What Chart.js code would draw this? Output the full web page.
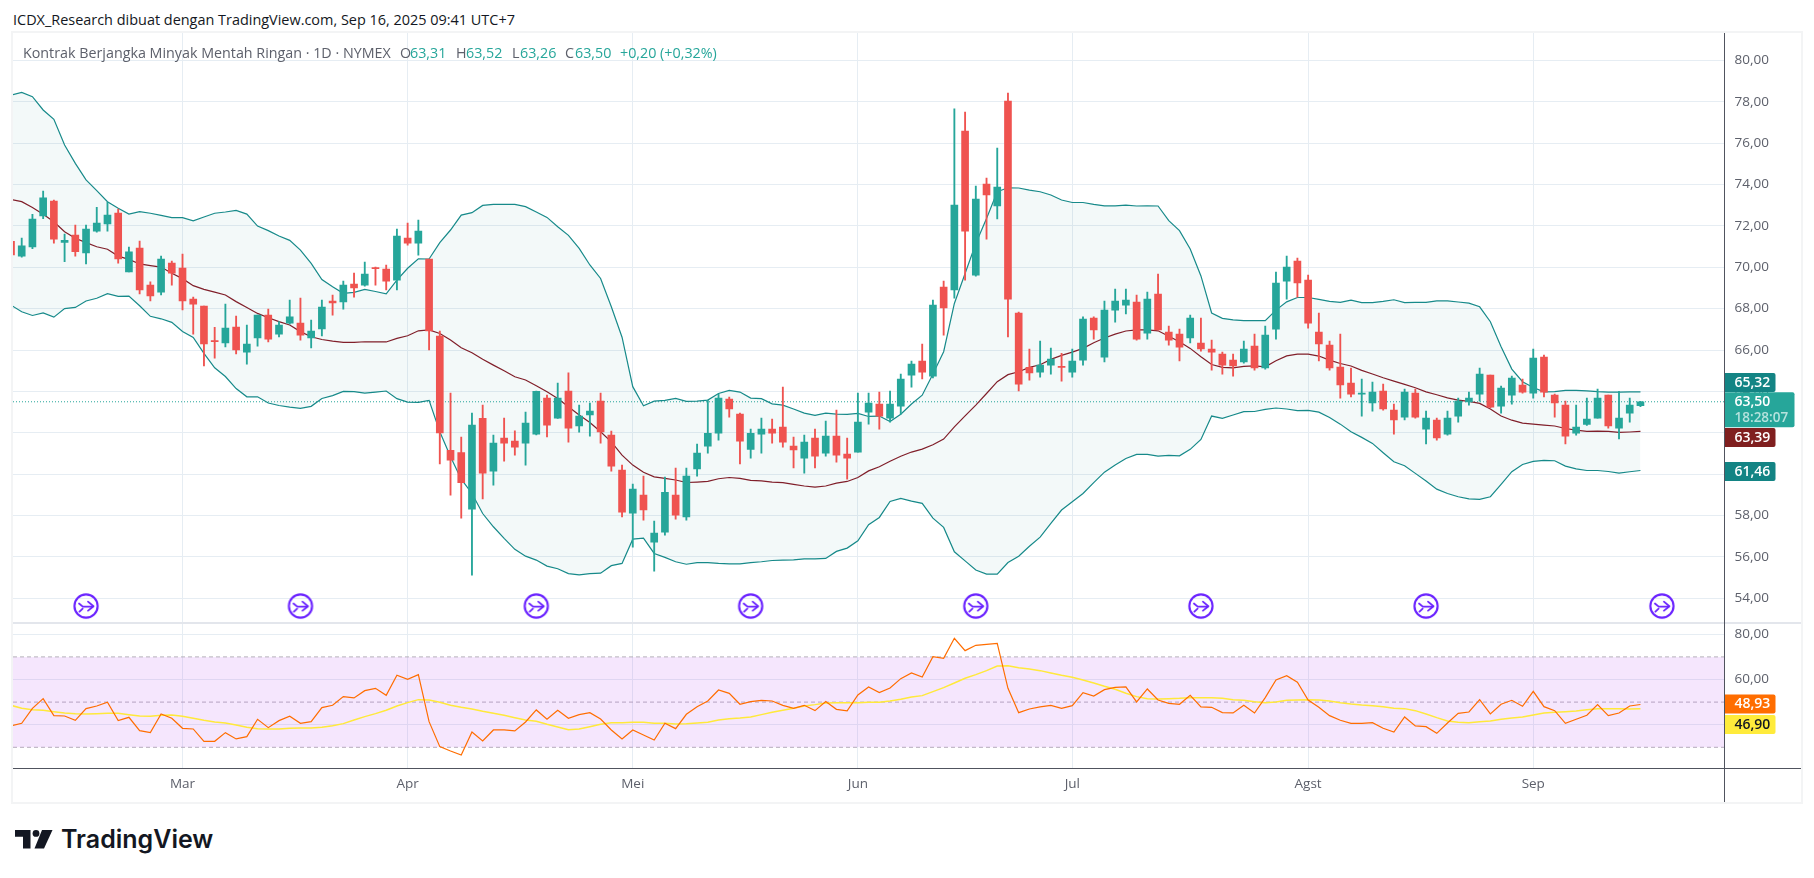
<!DOCTYPE html>
<html>
<head>
<meta charset="utf-8">
<title>Kontrak Berjangka Minyak Mentah Ringan</title>
<script src="https://cdn.jsdelivr.net/npm/chart.js@4"></script>
<style>
  html, body { margin: 0; padding: 0; background: #fff; width: 1814px; height: 878px; overflow: hidden; }
  canvas { position: absolute; left: 0; }
  #priceChart { top: 33px; }
  #rsiChart { top: 623px; }
  .txt { position: absolute; font-family: "Open Sans", sans-serif; font-size: 14.3px; line-height: 18px; white-space: nowrap; }
  .grey { color: #5d606b; }
  .up { color: #26a69a; }
  .rule { position: absolute; }
  #logoText { position: absolute; left: 61px; top: 824px; font-family: Inter, sans-serif; font-weight: 600; font-size: 25px; line-height: 30px; color: #131722; }
</style>
</head>
<body>
<canvas id="priceChart" width="1814" height="590"></canvas>
<canvas id="rsiChart" width="1814" height="179"></canvas>

<!-- chart frame and pane rules -->
<div class="rule" style="left:11px;top:31px;width:1788px;height:769px;border:2px solid #f3f4f5;"></div>
<div class="rule" style="left:13px;top:622px;width:1788px;height:2px;background:#e3e6ec;"></div>
<div class="rule" style="left:13px;top:768px;width:1788px;height:1px;background:#50535e;"></div>
<div class="rule" style="left:1724px;top:33px;width:1px;height:769px;background:#50535e;"></div>

<div class="txt" style="left:13px;top:11px;font-size:14.45px;color:#131722;">ICDX_Research dibuat dengan TradingView.com, Sep 16, 2025 09:41 UTC+7</div>
<div class="txt grey" style="left:23px;top:44px;">Kontrak Berjangka Minyak Mentah Ringan · 1D · NYMEX</div>
<div class="txt grey" style="left:400px;top:44px;">O</div><div class="txt up" style="left:410px;top:44px;">63,31</div>
<div class="txt grey" style="left:456px;top:44px;">H</div><div class="txt up" style="left:466px;top:44px;">63,52</div>
<div class="txt grey" style="left:512px;top:44px;">L</div><div class="txt up" style="left:520px;top:44px;">63,26</div>
<div class="txt grey" style="left:565px;top:44px;">C</div><div class="txt up" style="left:575px;top:44px;">63,50</div>
<div class="txt up" style="left:620px;top:44px;">+0,20 (+0,32%)</div>

<svg style="position:absolute;left:15px;top:830px;" width="38" height="19" viewBox="0 0 38 19">
  <path fill="#131722" d="M0 0H15.5V18.5H8V6.8H0Z"/>
  <circle fill="#131722" cx="21" cy="3.4" r="3.4"/>
  <path fill="#131722" d="M27 0H37.5L29 18.5H19.5Z"/>
</svg>
<div id="logoText">TradingView</div>

<script>
// harian, 153 bar
const opens = [
  71.25,70.54,70.98,72.48,73.2,71.2,71.56,70.69,71.75,72.09,
  72.62,69.77,70.93,69.14,68.8,70.2,69.96,68.46,68.13,66.45,
  66.34,67.11,65.9,66.58,67.69,66.77,67.3,67.3,66.58,67.02,
  68.37,68.32,69.19,69.14,69.98,69.91,69.38,71.41,71.17,70.4,
  66.67,61.15,61.05,58.31,62.7,60.15,61.74,61.6,61.5,61.94,
  63.68,62.71,64.02,62.33,62.86,63.53,61.89,60.2,58.12,58.99,
  56.72,57.2,58.99,57.93,60.25,61.36,61.98,63.63,62.9,61.2,
  61.94,62.18,62.28,61.36,60.78,61.74,61.02,61.84,60.97,61.07,
  63.0,63.39,62.71,63.29,64.79,65.47,64.74,69.04,68.9,76.58,
  69.62,74.02,72.96,78.03,67.79,65.16,64.93,65.27,65.2,64.93,
  65.51,67.55,65.66,67.93,68.17,68.32,66.82,68.7,66.87,66.77,
  66.58,66.34,66.05,65.8,65.51,65.42,66.19,65.13,67.01,69.33,
  70.3,69.38,66.87,66.24,65.18,64.4,63.87,63.44,64.02,63.1,
  62.76,63.92,62.18,62.62,61.94,62.81,63.49,63.87,64.79,63.29,
  63.82,64.31,63.92,65.66,63.82,63.34,61.98,62.4,62.71,63.82,
  62.23,62.95,63.31
];
const highs = [
  71.4,71.41,72.56,73.68,73.25,71.6,72.04,72.04,72.9,73.14,
  72.81,70.98,71.27,69.29,70.54,70.3,70.64,68.56,68.13,67.1,
  68.22,67.64,67.21,67.69,67.98,67.37,68.42,68.51,67.45,68.42,
  68.66,69.33,69.72,70.25,70.01,70.11,71.85,72.14,72.28,70.4,
  66.92,63.92,61.8,62.95,63.34,61.89,62.71,62.1,63.0,64.02,
  63.82,64.4,64.9,63.34,63.44,63.92,62.08,60.44,59.52,59.91,
  57.73,59.86,60.3,60.3,61.46,63.58,63.87,63.73,62.95,62.18,
  62.71,62.66,64.21,61.8,61.89,62.18,62.57,63.1,61.74,63.92,
  63.92,63.97,64.02,64.84,65.47,66.29,68.41,69.33,77.65,77.5,
  73.92,74.31,75.76,78.42,67.84,66.05,66.43,66.1,65.84,66.05,
  67.6,67.6,68.37,68.95,68.95,68.66,68.8,69.67,67.16,67.01,
  67.69,67.55,66.48,65.9,65.8,66.43,66.77,67.16,69.77,70.54,
  70.44,69.62,67.79,66.43,66.77,65.13,64.6,64.45,64.35,63.39,
  64.11,64.11,63.05,62.71,63.05,63.68,63.97,65.13,64.79,64.26,
  64.74,64.6,66.05,65.76,63.87,63.53,63.34,63.68,64.11,63.82,
  64.0,63.68,63.52
];
const lows = [
  70.4,70.49,70.9,72.35,71.17,70.27,70.54,70.16,71.7,71.75,
  70.2,69.77,68.71,68.37,68.66,69.14,67.94,66.77,65.23,65.61,
  66.15,65.81,65.32,66.19,66.39,66.64,67.25,66.48,66.1,66.68,
  67.69,67.98,68.56,69.09,69.14,68.9,68.9,71.07,70.59,66.0,
  60.5,58.99,57.88,55.12,58.8,59.47,60.63,60.92,60.44,61.9,
  61.8,62.7,61.55,62.03,61.84,61.5,60.15,57.93,56.48,57.78,
  55.32,57.06,57.83,57.78,59.91,61.02,61.65,62.76,60.5,60.78,
  61.02,61.5,61.31,60.3,60.05,60.3,60.87,60.58,59.76,61.07,
  62.42,62.18,62.52,62.9,64.21,64.6,64.65,66.72,68.51,69.38,
  69.57,71.36,72.33,66.63,64.02,64.55,64.69,64.84,64.5,64.69,
  65.27,66.53,65.42,67.35,67.74,66.48,66.53,66.97,66.24,65.47,
  66.34,65.95,65.03,64.84,64.74,65.37,65.03,65.08,66.53,68.46,
  68.56,67.06,65.47,65.03,63.68,63.73,62.81,63.05,63.1,61.94,
  62.62,62.71,61.46,61.65,61.89,62.52,63.34,63.53,63.2,62.95,
  63.39,63.92,63.68,63.73,62.76,61.46,61.89,62.36,62.71,62.23,
  61.7,62.52,63.26
];
const closes = [
  70.6,71.03,72.33,73.35,71.36,71.3,70.75,71.85,72.14,72.52,
  70.4,70.74,68.9,68.61,70.4,69.72,68.37,68.22,66.29,66.41,
  67.06,66.0,66.29,67.69,66.53,67.21,67.6,66.72,66.92,68.08,
  68.28,69.14,69.0,69.67,69.93,69.33,71.51,71.17,71.75,66.92,
  62.0,60.68,59.59,62.37,60.05,61.5,61.5,61.31,62.47,64.0,
  62.37,63.68,62.23,62.81,63.05,62.04,60.39,58.17,59.28,58.27,
  57.15,59.13,58.02,59.91,61.02,61.98,63.68,63.15,61.6,61.98,
  62.18,61.98,61.55,61.17,61.55,60.87,61.84,60.92,60.78,62.52,
  63.44,62.81,63.39,64.6,65.32,64.93,68.17,68.03,73.0,71.75,
  73.3,73.49,73.88,68.46,64.35,64.89,65.27,65.56,65.16,65.47,
  67.5,66.97,67.93,68.37,68.41,66.53,68.46,66.97,66.48,66.14,
  67.55,66.05,65.9,65.27,65.23,66.05,65.13,66.72,69.24,70.01,
  69.24,67.3,66.29,65.13,64.31,63.87,63.9,63.97,63.15,62.62,
  63.97,62.76,62.71,61.75,62.71,63.53,63.68,64.84,63.24,64.16,
  64.65,63.97,65.61,63.97,63.44,61.84,62.28,62.66,63.68,62.33,
  62.71,63.34,63.5
];

// Bollinger
const bbUpper = [
  78.32,78.45,78.24,77.6,77.15,75.91,75.02,74.22,73.7,73.17,
  72.85,72.57,72.69,72.61,72.51,72.4,72.4,72.24,72.43,72.61,
  72.67,72.75,72.57,71.99,71.77,71.51,71.3,70.83,70.19,69.41,
  69.06,68.74,68.79,68.93,68.83,68.72,69.38,69.95,70.41,70.4,
  71.19,71.8,72.52,72.64,72.99,73.04,73.04,73.04,72.93,72.67,
  72.41,71.96,71.54,70.91,70.11,69.46,68.09,66.62,64.23,63.31,
  63.53,63.57,63.66,63.52,63.53,63.58,63.9,64.05,63.97,63.68,
  63.65,63.4,63.34,63.15,62.95,62.84,62.95,62.9,62.89,62.94,
  62.79,62.81,62.55,62.9,63.39,63.82,64.84,65.92,68.25,69.7,
  71.15,72.36,73.65,73.84,73.83,73.73,73.65,73.49,73.25,73.13,
  73.13,73.04,72.97,72.97,73.0,72.96,72.97,72.96,72.25,71.77,
  70.88,69.58,67.79,67.53,67.46,67.42,67.42,67.42,67.93,68.33,
  68.54,68.54,68.45,68.35,68.3,68.41,68.29,68.29,68.35,68.43,
  68.29,68.3,68.3,68.38,68.38,68.32,68.27,68.09,67.37,66.16,
  65.08,64.47,64.19,63.98,63.99,64.05,64.05,64.03,63.99,63.97,
  63.97,63.98,63.98
];
const bbBasis = [
  73.28,73.17,72.89,72.56,72.2,71.72,71.4,71.19,70.99,70.87,
  70.54,70.38,70.16,70.08,70.01,69.71,69.45,69.11,68.93,68.8,
  68.66,68.34,68.06,67.77,67.56,67.37,67.21,66.89,66.64,66.51,
  66.43,66.37,66.37,66.4,66.39,66.39,66.56,66.69,66.93,66.97,
  66.8,66.48,66.11,65.87,65.55,65.27,65.0,64.71,64.55,64.27,
  63.98,63.66,63.26,62.86,62.5,62.05,61.56,60.92,60.44,60.09,
  59.87,59.8,59.72,59.6,59.62,59.65,59.78,59.84,59.8,59.7,
  59.68,59.62,59.59,59.51,59.43,59.38,59.43,59.57,59.65,59.84,
  60.16,60.36,60.63,60.87,61.07,61.21,61.42,61.7,62.29,62.82,
  63.34,63.9,64.47,64.81,64.95,65.16,65.29,65.55,65.74,65.9,
  66.08,66.35,66.58,66.77,66.92,66.97,66.97,66.93,66.67,66.4,
  66.08,65.68,65.3,65.16,65.14,65.21,65.23,65.19,65.48,65.72,
  65.8,65.8,65.71,65.51,65.35,65.23,65.02,64.84,64.66,64.5,
  64.34,64.18,63.98,63.84,63.69,63.58,63.52,63.42,63.15,62.81,
  62.61,62.47,62.42,62.37,62.33,62.21,62.13,62.07,62.08,62.07,
  62.02,62.04,62.07
];
const bbLower = [
  68.17,67.85,67.67,67.79,67.59,68.0,68.06,68.37,68.5,68.72,
  68.59,68.61,68.14,67.63,67.51,67.34,66.9,66.61,65.84,65.14,
  64.72,64.14,63.74,63.74,63.44,63.32,63.24,63.18,63.28,63.66,
  63.8,64.0,63.99,63.92,63.97,64.02,63.65,63.48,63.47,63.57,
  62.05,60.84,59.76,59.07,58.1,57.46,56.9,56.37,56.04,55.85,
  55.56,55.43,55.2,55.14,55.2,55.22,55.58,55.69,56.86,56.91,
  56.17,55.98,55.77,55.65,55.73,55.73,55.69,55.67,55.67,55.73,
  55.77,55.83,55.85,55.86,55.91,55.91,55.93,56.27,56.43,56.78,
  57.56,57.91,58.68,58.83,58.7,58.59,57.88,57.43,56.25,55.81,
  55.37,55.17,55.17,55.73,56.04,56.52,56.96,57.62,58.27,58.67,
  59.07,59.59,60.1,60.44,60.76,60.96,60.96,60.87,60.91,60.89,
  61.2,61.68,62.81,62.7,62.86,63.02,63.03,63.13,63.2,63.15,
  63.07,63.08,63.0,62.74,62.42,62.05,61.78,61.49,61.04,60.6,
  60.41,60.04,59.67,59.28,59.07,58.91,58.81,58.78,58.91,59.51,
  60.12,60.47,60.62,60.67,60.65,60.39,60.26,60.18,60.18,60.13,
  60.05,60.12,60.18
];

const rsi = [
  39.44,40.62,47.26,51.53,44.01,43.86,41.95,47.11,48.29,49.91,
  41.8,43.27,37.37,36.49,44.75,42.83,38.41,38.11,32.65,32.65,
  36.49,33.69,34.72,42.39,38.7,41.8,43.72,40.62,41.36,47.55,
  48.58,52.42,51.83,55.07,56.11,53.01,61.86,60.09,62.15,41.36,
  30.29,28.38,26.61,36.78,32.8,37.67,37.67,37.23,41.21,46.52,
  42.39,46.37,42.83,44.45,45.34,42.54,37.67,33.69,37.67,35.46,
  33.24,40.62,38.26,44.6,47.99,50.5,55.37,53.89,49.03,50.21,
  50.8,50.5,48.58,47.26,48.58,46.22,50.21,46.81,46.08,53.16,
  56.7,54.19,56.25,60.38,62.89,61.12,70.12,69.38,78.23,72.77,
  75.13,75.58,76.02,56.11,45.34,46.96,47.85,48.58,47.26,48.44,
  54.19,52.71,55.52,56.55,56.7,50.06,55.81,50.94,49.47,49.03,
  53.01,47.85,47.7,45.34,45.19,48.58,45.19,51.98,59.79,61.71,
  58.76,50.94,47.7,44.01,41.95,40.62,40.62,40.91,38.41,36.78,
  43.42,39.44,39.14,36.19,40.77,45.04,45.63,51.09,44.75,49.03,
  50.8,48.14,54.78,47.99,46.22,40.62,42.39,44.16,48.88,44.01,
  45.19,48.29,48.93
];
const rsiMa = [
  48.58,47.26,46.66,46.37,45.78,45.19,44.89,44.75,44.89,45.04,
  45.04,44.45,43.86,43.72,44.16,44.3,43.72,42.83,41.95,41.2,
  40.76,39.88,38.85,38.26,38.11,38.11,38.4,38.55,38.55,38.85,
  39.58,40.47,42.09,43.57,44.89,46.37,48.29,49.76,51.09,50.94,
  49.91,48.58,47.69,46.96,45.92,45.04,44.16,43.12,42.09,41.5,
  40.17,38.99,37.81,38.11,39.14,40.17,40.91,40.91,41.06,41.06,
  40.62,40.62,40.32,40.47,40.76,41.06,42.09,42.68,42.98,43.42,
  44.45,45.48,46.37,47.26,48.29,48.88,49.61,49.76,49.76,49.76,
  49.91,49.91,50.5,51.24,52.27,52.86,54.63,56.4,58.46,60.53,
  62.15,63.92,65.98,66.13,65.25,64.66,63.92,62.89,61.86,60.97,
  59.79,58.46,56.99,55.66,53.89,52.42,51.53,51.38,51.53,51.68,
  51.97,51.97,51.97,51.68,51.09,50.79,50.2,49.76,50.05,50.79,
  50.94,51.09,50.94,50.5,49.76,49.17,48.73,48.43,47.99,47.26,
  47.11,46.22,44.75,43.12,41.65,41.06,40.91,41.35,41.65,42.39,
  42.98,43.42,44.3,45.19,45.48,45.78,46.07,46.66,47.11,47.11,
  47.11,46.96,47.11
];

const priceTicks = [54,56,58,60,62,64,66,68,70,72,74,76,78,80];
const rsiTicks = [40,60,80];
const rsiBands = [70,50,30];
const monthBars = [16,37,58,79,99,121,142];
const monthLabels = ['Mar','Apr','Mei','Jun','Jul','Agst','Sep'];
const eventBars = [7,27,49,69,90,111,132,154];
const eventLevel = 53.63;
const lastPrice = 63.5;

// tag di sumbu kanan: teks, nilai posisi, warna
const priceTagText = [['65,32'],['63,39'],['61,46'],['63,50','18:28:07']];
const priceTagAt = [64.43,61.77,60.13,63.12];
const priceTagBg = ['#138484','#801f1f','#138484','#26a69a'];
const rsiTagText = [['48,93'],['46,90']];
const rsiTagAt = [49.16,40.1];
const rsiTagBg = ['#ff6d00','#ffeb3b'];
const rsiTagFg = ['#ffffff','#131722'];

const xMin = 0.187, xMax = 159.84;
const upColor = '#26a69a', downColor = '#ef5350';
const gridColor = '#e6edf3';
const tickFont = { family: '"Open Sans", sans-serif', size: 13.5 };
const fmt = v => v.toFixed(2).replace('.', ',');
const barColor = ctx => closes[ctx.dataIndex] >= opens[ctx.dataIndex] ? upColor : downColor;
const series = arr => arr.map((y, x) => ({ x, y }));

function eventIcon() {
  const c = document.createElement('canvas');
  c.width = 28; c.height = 28;
  const g = c.getContext('2d');
  g.strokeStyle = '#6a22ff';
  g.lineCap = 'round'; g.lineJoin = 'round';
  g.lineWidth = 2.1;
  g.beginPath(); g.arc(14, 14, 11.6, 0, Math.PI * 2); g.stroke();
  g.lineWidth = 1.8;
  g.beginPath(); g.moveTo(7, 11.5); g.lineTo(10.8, 14.6); g.lineTo(20.5, 14.6); g.stroke();
  g.beginPath(); g.moveTo(16, 9.6); g.lineTo(21.5, 14.2); g.lineTo(16, 18.6); g.stroke();
  g.beginPath(); g.moveTo(7.4, 19.6); g.lineTo(10.6, 16.6); g.stroke();
  return c;
}

const axisTags = {
  id: 'axisTags',
  afterDraw(chart, args, opts) {
    const g = chart.ctx, y = chart.scales.y, left = chart.chartArea.right;
    opts.text.forEach((lines, i) => {
      const h = lines.length > 1 ? 35 : 19, w = lines.length > 1 ? 70 : 51;
      const cy = y.getPixelForValue(opts.at[i]);
      g.save();
      g.fillStyle = opts.bg[i];
      g.beginPath();
      g.roundRect(left, cy - h / 2, w, h, [0, 2, 2, 0]);
      g.fill();
      g.font = '600 14px "Open Sans", sans-serif';
      g.textBaseline = 'middle';
      g.fillStyle = opts.fg ? opts.fg[i] : '#ffffff';
      if (lines.length > 1) {
        g.fillText(lines[0], left + 10, cy - 8);
        g.font = '600 13.5px "Open Sans", sans-serif';
        g.fillStyle = '#b5e2dd';
        g.fillText(lines[1], left + 10, cy + 9);
      } else {
        g.fillText(lines[0], left + 10, cy + 0.5);
      }
      g.restore();
    });
  }
};

function xAxis(showLabels) {
  return {
    type: 'linear', min: xMin, max: xMax, offset: false,
    grid: { color: gridColor, drawTicks: false, offset: false },
    border: { display: false },
    afterBuildTicks: s => { s.ticks = monthBars.map(value => ({ value })); },
    afterFit: s => { s.height = showLabels ? 34 : 0; s.paddingLeft = 0; s.paddingRight = 0; },
    ticks: {
      display: showLabels, autoSkip: false, maxRotation: 0, padding: 8,
      font: tickFont, color: '#5d606b',
      callback: v => monthLabels[monthBars.indexOf(v)]
    }
  };
}

function yAxis(min, max, ticks) {
  return {
    position: 'right', min, max,
    grid: { color: gridColor, drawTicks: false },
    border: { display: false },
    afterBuildTicks: s => { s.ticks = ticks.map(value => ({ value })); },
    // label tick tidak boleh menyusutkan area plot
    afterFit: s => { s.width = 76.5; s.paddingTop = 0; s.paddingBottom = 0; },
    ticks: { padding: 10, font: tickFont, color: '#5d606b', callback: fmt }
  };
}

const commonOptions = {
  responsive: false, animation: false, events: [],
  layout: { autoPadding: false, padding: { left: 13, right: 13, top: 0, bottom: 0 } }
};

new Chart(document.getElementById('priceChart'), {
  type: 'bar',
  plugins: [axisTags],
  data: {
    datasets: [
      { type: 'bar', order: 1, data: opens.map((o, i) => ({ x: i, y: [o, closes[i]] })), barThickness: 7, minBarLength: 1, grouped: false, backgroundColor: barColor },
      { type: 'bar', order: 2, data: lows.map((l, i) => ({ x: i, y: [l, highs[i]] })), barThickness: 1.2, grouped: false, backgroundColor: barColor },
      { type: 'line', order: 3, data: series(bbBasis), borderColor: '#801f2a', borderWidth: 1.2, pointRadius: 0, tension: 0 },
      { type: 'line', order: 4, data: series(bbUpper), borderColor: '#178a8a', borderWidth: 1.2, pointRadius: 0, tension: 0, fill: { target: 4 }, backgroundColor: 'rgba(19,132,132,0.05)' },
      { type: 'line', order: 4, data: series(bbLower), borderColor: '#178a8a', borderWidth: 1.2, pointRadius: 0, tension: 0 },
      { type: 'line', order: 5, data: [{ x: xMin, y: lastPrice }, { x: xMax, y: lastPrice }], borderColor: '#26a69a', borderWidth: 1, borderDash: [1, 2], pointRadius: 0 },
      { type: 'line', order: 0, showLine: false, data: eventBars.map(x => ({ x, y: eventLevel })), pointRadius: 12, pointStyle: eventIcon(), clip: false }
    ]
  },
  options: {
    ...commonOptions,
    scales: { x: xAxis(false), y: yAxis(52.81, 81.32, priceTicks) },
    plugins: {
      legend: { display: false }, tooltip: { enabled: false },
      axisTags: { text: priceTagText, at: priceTagAt, bg: priceTagBg }
    }
  }
});

new Chart(document.getElementById('rsiChart'), {
  type: 'line',
  plugins: [axisTags],
  data: {
    datasets: [
      { order: 5, data: [{ x: xMin, y: rsiBands[0] }, { x: xMax, y: rsiBands[0] }], borderColor: '#b5b0ba', borderWidth: 1, borderDash: [4, 3], pointRadius: 0, fill: { target: 2 }, backgroundColor: 'rgba(170,50,240,0.12)' },
      { order: 5, data: [{ x: xMin, y: rsiBands[1] }, { x: xMax, y: rsiBands[1] }], borderColor: '#b5b0ba', borderWidth: 1, borderDash: [4, 3], pointRadius: 0 },
      { order: 5, data: [{ x: xMin, y: rsiBands[2] }, { x: xMax, y: rsiBands[2] }], borderColor: '#b5b0ba', borderWidth: 1, borderDash: [4, 3], pointRadius: 0 },
      { order: 2, data: series(rsiMa), borderColor: '#ffe93b', borderWidth: 1.5, pointRadius: 0, tension: 0 },
      { order: 1, data: series(rsi), borderColor: '#ff6d00', borderWidth: 1.2, pointRadius: 0, tension: 0 }
    ]
  },
  options: {
    ...commonOptions,
    scales: { x: xAxis(true), y: yAxis(20.84, 85, rsiTicks) },
    plugins: {
      legend: { display: false }, tooltip: { enabled: false },
      axisTags: { text: rsiTagText, at: rsiTagAt, bg: rsiTagBg, fg: rsiTagFg }
    }
  }
});
</script>
</body>
</html>
